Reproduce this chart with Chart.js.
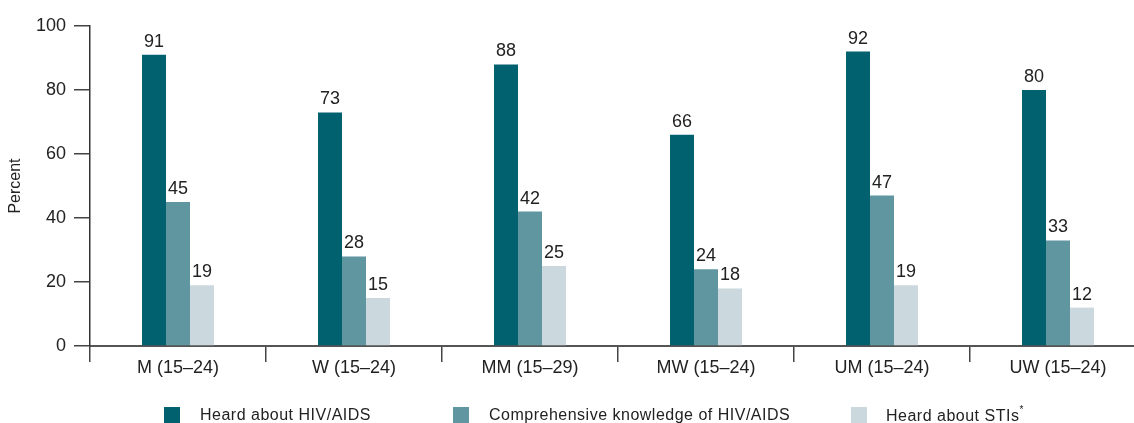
<!DOCTYPE html>
<html>
<head>
<meta charset="utf-8">
<script src="https://cdn.jsdelivr.net/npm/chart.js@4/dist/chart.umd.min.js"></script>
<style>
    html, body { margin: 0; padding: 0; background: #fff; overflow: hidden; }
    #wrap { position: relative; width: 1150px; height: 423px; }
    #legend { position: absolute; left: 0; top: 0; width: 1134px; height: 423px; pointer-events: none;
        font-family: "Liberation Sans", Arial, sans-serif; font-size: 16px; color: #222; letter-spacing: 0.5px; }
    .box { position: absolute; top: 407px; width: 16px; height: 17px; }
    .txt { position: absolute; top: 406px; white-space: nowrap; }
    sup { font-size: 10px; position: relative; top: -2px; }
</style>
</head>
<body>
<div id="wrap">
    <canvas id="chart" width="1150" height="423"></canvas>
    <div id="legend">
        <div class="box" style="left:164px;background:#02616e"></div>
        <div class="txt" style="left:200px">Heard about HIV/AIDS</div>
        <div class="box" style="left:453px;background:#6096a0"></div>
        <div class="txt" style="left:489px">Comprehensive knowledge of HIV/AIDS</div>
        <div class="box" style="left:851px;background:#cbd9de"></div>
        <div class="txt" style="left:886px">Heard about STIs<sup>*</sup></div>
    </div>
</div>
<script>
// ---------------- DATA ----------------

const categories = ["M (15–24)", "W (15–24)", "MM (15–29)", "MW (15–24)", "UM (15–24)", "UW (15–24)"];
const heardHiv = [91, 73, 88, 66, 92, 80];
const comprehensive = [45, 28, 42, 24, 47, 33];
const heardSti = [19, 15, 25, 18, 19, 12];
const yTicks = [0, 20, 40, 60, 80, 100];

const font = "'Liberation Sans', Arial, sans-serif";

// ---------------- VALUE LABELS ----------------

const valueLabels = {
    id: "valueLabels",
    afterDatasetsDraw(chart) {
        const ctx = chart.ctx;
        ctx.save();
        ctx.font = "18px " + font;
        ctx.fillStyle = "#222";
        ctx.textAlign = "center";
        ctx.textBaseline = "bottom";
        chart.data.datasets.forEach((ds, i) => {
            chart.getDatasetMeta(i).data.forEach((bar, j) => {
                ctx.fillText(ds.data[j], bar.x, bar.y - 4);
            });
        });
        ctx.restore();
    }
};

// ---------------- CHART ----------------

new Chart(document.getElementById("chart"), {
    type: "bar",
    data: {
        labels: categories,
        datasets: [
            { label: "Heard about HIV/AIDS", data: heardHiv, backgroundColor: "#02616e" },
            { label: "Comprehensive knowledge of HIV/AIDS", data: comprehensive, backgroundColor: "#6096a0" },
            { label: "Heard about STIs*", data: heardSti, backgroundColor: "#cbd9de" }
        ]
    },
    options: {
        responsive: false,
        animation: false,
        layout: { padding: { top: 26, right: 4, left: 0, bottom: 0 } },
        datasets: { bar: { categoryPercentage: 72 / 176, barPercentage: 1 } },
        plugins: { legend: { display: false }, tooltip: { enabled: false } },
        scales: {
            x: {
                grid: { drawOnChartArea: false, tickLength: 16, color: "#444", lineWidth: 1.5, offset: true },
                border: { color: "#555", width: 2 },
                ticks: { color: "#222", font: { family: font, size: 18 }, padding: -5 },
                afterFit(scale) { scale.height = 77; }
            },
            y: {
                min: 0,
                max: 100,
                afterBuildTicks(scale) { scale.ticks = yTicks.map(v => ({ value: v })); },
                grid: { drawOnChartArea: false, tickLength: 16, color: "#444", lineWidth: 1.5 },
                border: { color: "#333", width: 1.5 },
                ticks: { color: "#222", font: { family: font, size: 18 }, padding: 8 },
                title: { display: true, text: "Percent", color: "#222", font: { family: font, size: 16 }, padding: { top: 6, bottom: 0 } },
                afterFit(scale) { scale.width = 90; }
            }
        }
    },
    plugins: [valueLabels]
});
</script>
</body>
</html>
